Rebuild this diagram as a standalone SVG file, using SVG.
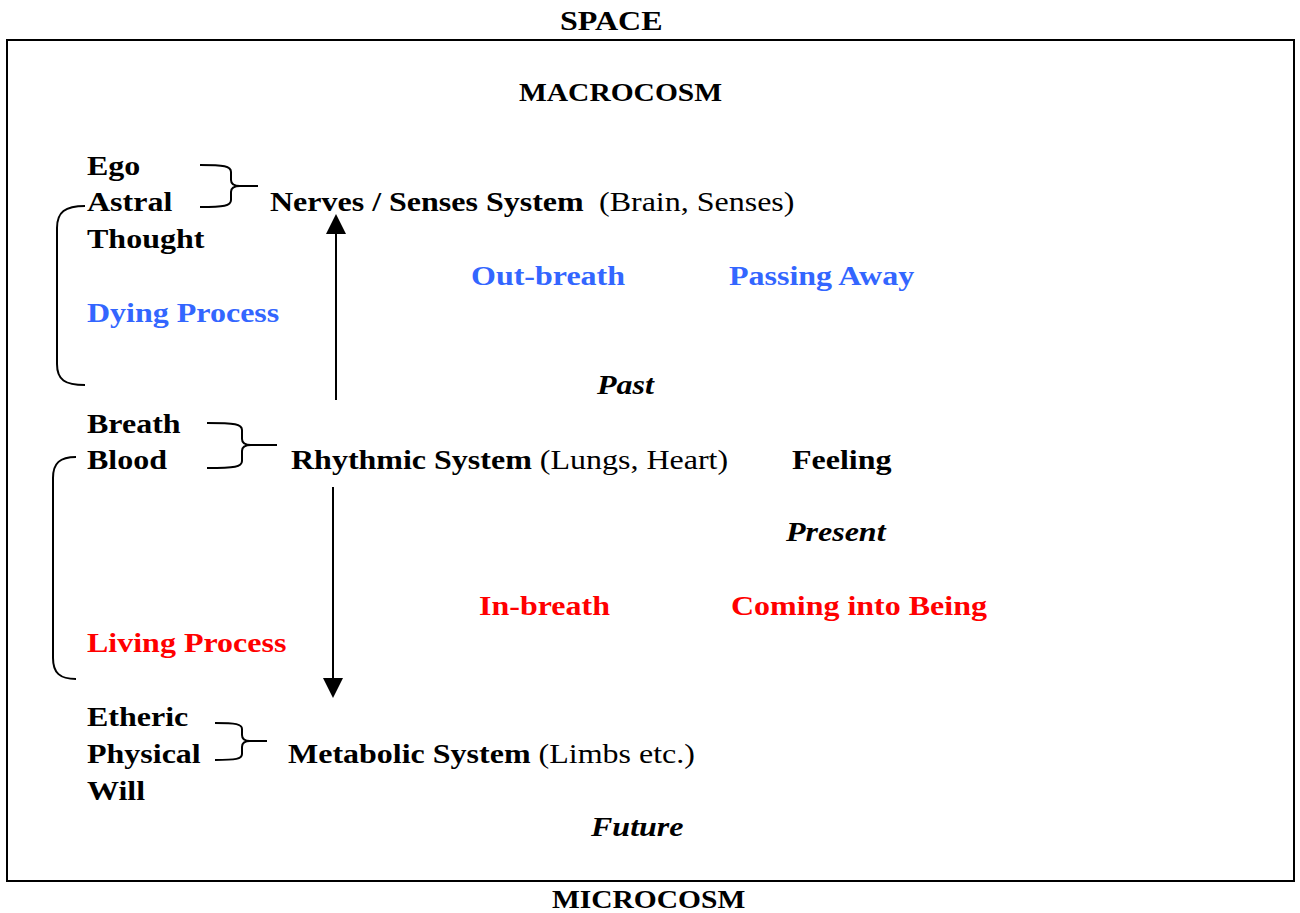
<svg xmlns="http://www.w3.org/2000/svg" width="1300" height="913" viewBox="0 0 1300 913">
<style>
text{font-family:"Liberation Serif","Times New Roman",serif;font-size:32px;fill:#000}
.b{font-weight:bold}
.r{font-weight:normal}
.i{font-weight:bold;font-style:italic}
.blue{fill:#3366ff;font-weight:bold}
.red{fill:#ff0000;font-weight:bold}
.sm{font-size:29.5px;font-weight:bold}
.ln{fill:none;stroke:#000;stroke-width:2}
.ah{fill:#000}
</style>
<rect x="0" y="0" width="1300" height="913" fill="#fff"/>
<rect id="frame" x="7" y="40" width="1287" height="841" fill="none" stroke="#000" stroke-width="2"/>
<g id="titles">
<text class="b" transform="matrix(1 0 0 0.87 560 30)">SPACE</text>
<text class="sm" transform="matrix(1 0 0 0.87 519 101)">MACROCOSM</text>
<text class="sm" transform="matrix(1 0 0 0.87 552 908)">MICROCOSM</text>
</g>
<g id="upper-members">
<text class="b" transform="matrix(1 0 0 0.87 87 175)">Ego</text>
<text class="b" transform="matrix(1 0 0 0.87 87 211)">Astral</text>
<text class="b" transform="matrix(1 0 0 0.87 87 248)">Thought</text>
</g>
<g id="nerves-senses">
<text transform="matrix(1 0 0 0.87 270 211)"><tspan class="b">Nerves / Senses System</tspan><tspan class="r" x="329">(Brain, Senses)</tspan></text>
</g>
<g id="dying">
<text class="blue" transform="matrix(1 0 0 0.87 87 322)">Dying Process</text>
</g>
<g id="outbreath">
<text class="blue" transform="matrix(1 0 0 0.87 471 285)">Out-breath</text>
<text class="blue" transform="matrix(1 0 0 0.87 729 285)">Passing Away</text>
</g>
<g id="past">
<text class="i" transform="matrix(1 0 0 0.87 597 394)">Past</text>
</g>
<g id="middle-members">
<text class="b" transform="matrix(1 0 0 0.87 87 433)">Breath</text>
<text class="b" transform="matrix(1 0 0 0.87 87 469)">Blood</text>
</g>
<g id="rhythmic">
<text transform="matrix(1 0 0 0.87 291 469)"><tspan class="b">Rhythmic System </tspan><tspan class="r">(Lungs, Heart)</tspan></text>
</g>
<g id="feeling">
<text class="b" transform="matrix(1 0 0 0.87 792 469)">Feeling</text>
</g>
<g id="present">
<text class="i" transform="matrix(1 0 0 0.87 786 541)">Present</text>
</g>
<g id="inbreath">
<text class="red" transform="matrix(1 0 0 0.87 479 615)">In-breath</text>
<text class="red" transform="matrix(1 0 0 0.87 731 615)">Coming into Being</text>
</g>
<g id="living">
<text class="red" transform="matrix(1 0 0 0.87 87 652)">Living Process</text>
</g>
<g id="lower-members">
<text class="b" transform="matrix(1 0 0 0.87 87 726)">Etheric</text>
<text class="b" transform="matrix(1 0 0 0.87 87 763)">Physical</text>
<text class="b" transform="matrix(1 0 0 0.87 87 800)">Will</text>
</g>
<g id="metabolic">
<text transform="matrix(1 0 0 0.87 288 763)"><tspan class="b">Metabolic System </tspan><tspan class="r">(Limbs etc.)</tspan></text>
</g>
<g id="future">
<text class="i" transform="matrix(1 0 0 0.87 591 836)">Future</text>
</g>
<g id="connectors">
<path class="ln" d="M200,165 C224,165 231,166 231,172 L231,180 C231,184 234,186 240,186 L258,186 M240,186 C234,186 231,188 231,192 L231,200 C231,206 224,207 200,207"/>
<path class="ln" d="M207,423 C235,423 242,424 242,430 L242,439 C242,443 245,445 251,445 L277,445 M251,445 C245,445 242,447 242,451 L242,461 C242,467 235,468 207,468"/>
<path class="ln" d="M215,723 C236,723 242,724 242,729 L242,735 C242,739 245,741 250,741 L267,741 M250,741 C245,741 242,743 242,747 L242,754 C242,759 236,760 215,760"/>
<path class="ln" d="M85,206 C65,206 57,212 57,228 L57,364 C57,380 65,385 85,385"/>
<path class="ln" d="M76,457 C60,457 53,463 53,478 L53,658 C53,673 60,679 76,679"/>
<line class="ln" x1="336" y1="400" x2="336" y2="232"/>
<polygon class="ah" points="336,214 326,234 346,234"/>
<line class="ln" x1="333" y1="487" x2="333" y2="680"/>
<polygon class="ah" points="333,698 323,678 343,678"/>
</g>
</svg>
